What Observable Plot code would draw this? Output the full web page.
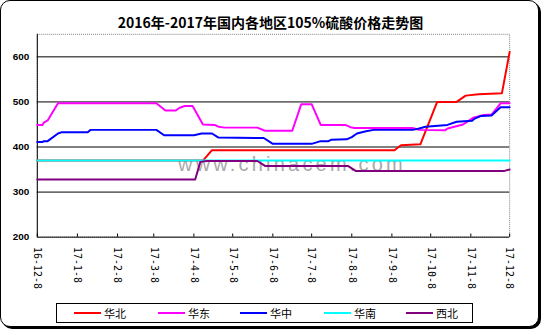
<!DOCTYPE html>
<html><head><meta charset="utf-8">
<script src="https://cdn.jsdelivr.net/npm/d3@7"></script>
<script src="https://cdn.jsdelivr.net/npm/@observablehq/plot@0.6"></script>
<style>
body{margin:0;background:#fff;}
#wrap{position:absolute;left:0;top:0;width:537px;height:325px;border:1px solid #000;border-radius:10px;box-shadow:2px 2px 0 #000;overflow:hidden;background:#fff;}
#title{position:absolute;left:-1px;top:11px;width:541px;text-align:center;font:bold 14px "Noto Sans CJK SC",sans-serif;color:#000;}
#wm{position:absolute;left:177px;top:152px;font:20px "Liberation Sans",Arial,sans-serif;letter-spacing:3.2px;color:#a8a8a8;}
#chart{position:absolute;left:-1px;top:-1px;}
#legend{position:absolute;left:55px;top:302px;width:415px;height:18px;border:1px solid #000;}
.li{position:absolute;top:0;height:18px;font:11px "Noto Sans CJK SC",sans-serif;line-height:18px;}
.sw{position:absolute;top:8px;width:27px;height:2px;}
.lt{position:absolute;left:30px;top:0;white-space:nowrap;}
</style></head>
<body>
<div id="wrap">
  <div id="wm">www.chinacem.com</div>
  <div id="chart"></div>
  <div id="title"></div>
  <div id="legend"></div>
</div>
<script>
const titleText = "2016年-2017年国内各地区105%硫酸价格走势图";
const seriesNames = ["华北", "华东", "华中", "华南", "西北"];
const xTickLabels = ["16-12-8","17-1-8","17-2-8","17-3-8","17-4-8","17-5-8","17-6-8","17-7-8","17-8-8","17-9-8","17-10-8","17-11-8","17-12-8"];
const yTicks = [200, 300, 400, 500, 600];

const huabeiDates = ["2016-12-08","2017-04-15","2017-04-22","2017-09-10","2017-09-15","2017-09-30","2017-10-13","2017-10-28","2017-11-04","2017-11-14","2017-12-02","2017-12-08"];
const huabeiValues = [370,370,393,393,404,406,500,500,514,517,519,611];

const huadongDates = ["2016-12-08","2016-12-12","2016-12-13","2016-12-16","2016-12-24","2017-03-10","2017-03-17","2017-03-25","2017-03-28","2017-04-01","2017-04-07","2017-04-15","2017-04-24","2017-04-27","2017-05-02","2017-05-27","2017-06-02","2017-06-23","2017-06-30","2017-07-08","2017-07-15","2017-08-03","2017-08-07","2017-08-10","2017-09-24","2017-09-29","2017-10-19","2017-10-21","2017-11-02","2017-11-10","2017-11-18","2017-11-24","2017-12-01","2017-12-08"];
const huadongValues = [449,449,454,459,497,497,481,481,487,491,491,450,449,445,443,443,436,436,495,495,449,449,444,442,442,438,437,441,450,465,471,472,497,497];

const huazhongDates = ["2016-12-08","2016-12-12","2016-12-13","2016-12-16","2016-12-24","2016-12-27","2017-01-16","2017-01-18","2017-03-10","2017-03-16","2017-04-08","2017-04-14","2017-04-22","2017-04-27","2017-06-01","2017-06-08","2017-07-08","2017-07-15","2017-07-21","2017-07-23","2017-08-04","2017-08-08","2017-08-12","2017-08-19","2017-08-25","2017-09-24","2017-09-29","2017-10-04","2017-10-21","2017-10-28","2017-11-09","2017-11-11","2017-11-16","2017-11-24","2017-12-01","2017-12-08"];
const huazhongValues = [411,411,413,413,430,433,433,438,438,426,426,430,430,421,420,407,407,413,413,416,417,422,430,435,438,438,441,445,449,456,458,463,469,470,488,488];

const huananDates = ["2016-12-08","2017-12-08"];
const huananValues = [370,370];

const xibeiDates = ["2016-12-08","2017-04-09","2017-04-13","2017-04-18","2017-05-27","2017-06-02","2017-08-05","2017-08-11","2017-12-04","2017-12-08"];
const xibeiValues = [328,328,367,369,369,358,358,347,347,350];

const colors = ["#ff0000", "#ff00ff", "#0000ff", "#00ffff", "#800080"];

const allDates = [huabeiDates, huadongDates, huazhongDates, huananDates, xibeiDates];
const allValues = [huabeiValues, huadongValues, huazhongValues, huananValues, xibeiValues];
const rows = [];
seriesNames.forEach((name, k) => {
  allDates[k].forEach((d, i) => rows.push({series: name, date: new Date(d + "T00:00:00Z"), value: allValues[k][i]}));
});

const tickDates = xTickLabels.map(s => {
  const [y, m, d] = s.split("-").map(Number);
  return new Date(Date.UTC(2000 + y, m - 1, d));
});
const labelByTime = new Map(tickDates.map((d, i) => [+d, xTickLabels[i]]));
const x0 = tickDates[0], x1 = tickDates[tickDates.length - 1];

document.getElementById("title").textContent = titleText;

const chart = Plot.plot({
  width: 541,
  height: 300,
  marginLeft: 37,
  marginRight: 29,
  marginTop: 34,
  marginBottom: 62,
  style: {background: "transparent", overflow: "visible", fontFamily: "Liberation Sans, Arial, sans-serif"},
  x: {type: "utc", domain: [x0, x1], label: null},
  y: {domain: [200, 650], label: null},
  color: {domain: seriesNames, range: colors},
  marks: [
    Plot.frame({stroke: "#808080", strokeDasharray: "1,1"}),
    Plot.gridY(yTicks.filter(v => v > 200), {stroke: "#000", strokeOpacity: 1}),
    Plot.ruleY([200], {stroke: "#000"}),
    Plot.ruleX([x0], {stroke: "#000"}),
    Plot.ruleX(tickDates, {x: d => d, y1: 200, y2: 207, stroke: "#000"}),
    Plot.line(rows, {x: "date", y: "value", z: "series", stroke: "series", strokeWidth: 2}),
    Plot.axisY({ticks: yTicks, tickSize: 0, tickPadding: 8, fontWeight: "bold", fontSize: 10, label: null}),
    Plot.axisX({ticks: tickDates, tickFormat: d => labelByTime.get(+d), tickRotate: 90, tickSize: 0, tickPadding: 10, fontSize: 10, fontFamily: "DejaVu Sans Mono, monospace", label: null})
  ]
});
document.getElementById("chart").appendChild(chart);

const legend = document.getElementById("legend");
const legendX = [17, 101, 183, 267, 349];
seriesNames.forEach((name, i) => {
  const item = document.createElement("div");
  item.className = "li";
  item.style.left = legendX[i] + "px";
  item.innerHTML = `<div class="sw" style="background:${colors[i]}"></div><div class="lt">${name}</div>`;
  legend.appendChild(item);
});
</script>
</body></html>
